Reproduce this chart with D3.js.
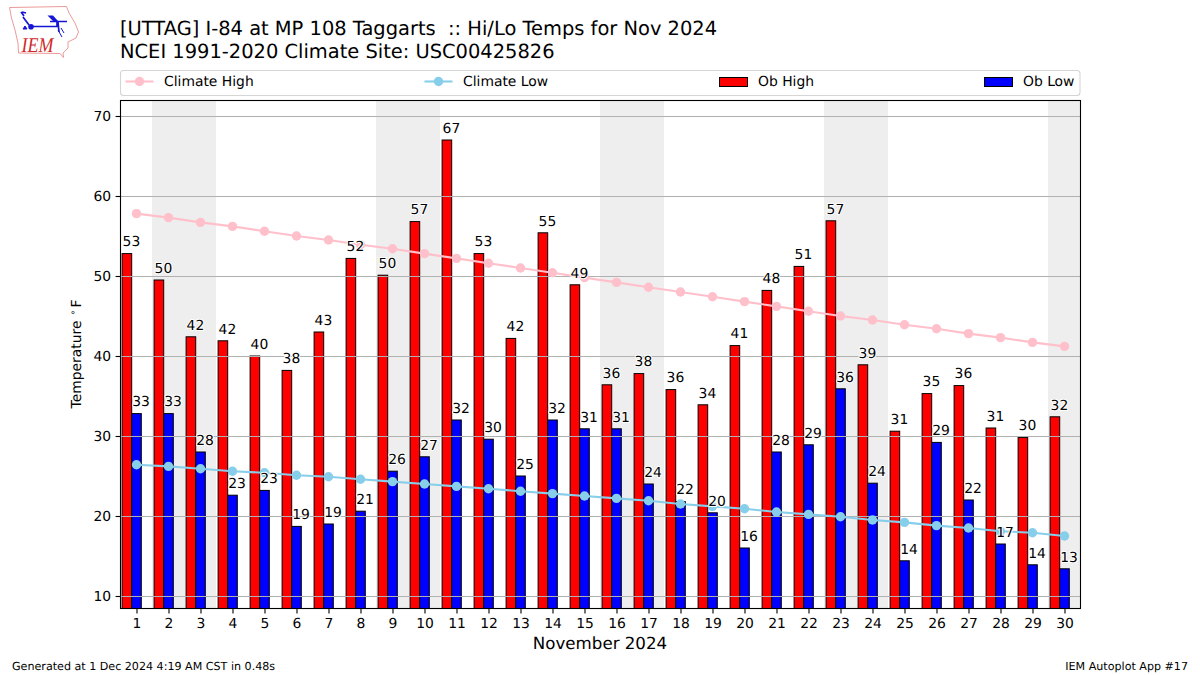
<!DOCTYPE html>
<html><head><meta charset="utf-8">
<script src="https://cdnjs.cloudflare.com/ajax/libs/d3/7.9.0/d3.min.js"></script>
<style>
html,body{margin:0;padding:0;background:#fff}
svg{display:block}
text{font-family:"DejaVu Sans",sans-serif;fill:#000;text-rendering:geometricPrecision}
</style></head><body>
<script>
const days = d3.range(1, 31);
const obHigh = [52.8,49.5,42.4,41.9,40.0,38.2,43.0,52.2,50.1,56.8,67.0,52.8,42.2,55.4,48.9,36.4,37.8,35.8,33.9,41.3,48.2,51.2,56.9,38.9,30.6,35.3,36.3,31.0,29.8,32.4];
const obLow = [32.8,32.8,28.0,22.6,23.2,18.7,19.0,20.6,25.6,27.4,32.0,29.6,25.0,32.0,30.9,30.9,24.0,21.8,20.4,16.0,28.0,28.9,35.9,24.1,14.4,29.2,22.0,16.5,13.9,13.4];
const climateHigh = [57.8,57.3,56.7,56.2,55.6,55.0,54.5,53.9,53.4,52.8,52.2,51.6,51.0,50.4,49.8,49.2,48.6,48.0,47.4,46.8,46.2,45.6,45.0,44.5,43.9,43.4,42.8,42.3,41.7,41.2];
const climateLow = [26.4,26.2,25.9,25.6,25.4,25.1,24.9,24.6,24.3,24.0,23.7,23.4,23.1,22.8,22.5,22.2,21.9,21.5,21.2,20.9,20.5,20.2,19.9,19.5,19.2,18.8,18.5,18.1,17.9,17.5];
const weekendDays = [2,3,9,10,16,17,23,24,30];
const yTicks = [10,20,30,40,50,60,70];
const titleLines = ["[UTTAG] I-84 at MP 108 Taggarts  :: Hi/Lo Temps for Nov 2024","NCEI 1991-2020 Climate Site: USC00425826"];

const svg = d3.select("body").append("svg").attr("width",1200).attr("height",675);
const L=120.5,R=1080.5,T=100.5,B=608.5;
const x = d3.scaleLinear().domain([0.5,30.5]).range([L,R]);
const y = d3.scaleLinear().domain([8.5,72]).range([B-0.5,T-0.5]);
const barW = x(0.3)-x(0);

svg.append("g").selectAll("rect").data(weekendDays).join("rect")
  .attr("x",d=>x(d-0.5)-0.5).attr("y",T).attr("width",d=>Math.min(x(d+0.5),R)-x(d-0.5)).attr("height",B-T)
  .attr("fill","#eeeeee");

function bars(vals,off,color){
  svg.append("g").selectAll("rect").data(vals).join("rect")
    .attr("x",(d,i)=>x(days[i]+off)-barW/2).attr("width",barW)
    .attr("y",d=>y(d)).attr("height",d=>B-y(d))
    .attr("fill",color).attr("stroke","#000").attr("stroke-width",1);
}
bars(obHigh,-0.3,"#ff0000");
bars(obLow,0,"#0000ff");

svg.append("g").selectAll("line").data(yTicks).join("line")
  .attr("x1",L).attr("x2",R).attr("y1",d=>Math.round(y(d))+0.5).attr("y2",d=>Math.round(y(d))+0.5)
  .attr("stroke","#b0b0b0").attr("stroke-width",1.1);

function climate(vals,color){
  const line=d3.line().x((d,i)=>x(days[i])).y(d=>y(d));
  svg.append("path").attr("d",line(vals)).attr("fill","none").attr("stroke",color).attr("stroke-width",2.08);
  svg.append("g").selectAll("circle").data(vals).join("circle")
    .attr("cx",(d,i)=>x(days[i])).attr("cy",d=>y(d)).attr("r",4.7).attr("fill",color);
}
climate(climateHigh,"#ffc0cb");
climate(climateLow,"#87ceeb");

function labels(vals,off){
  svg.append("g").selectAll("text").data(vals).join("text")
    .attr("x",(d,i)=>x(days[i]+off)-barW/2+0.5).attr("y",d=>y(d+1)+0.8)
    .attr("font-size",13.89)
    .attr("stroke","#fff").attr("stroke-width",2).attr("paint-order","stroke").attr("stroke-linejoin","round")
    .text(d=>Math.round(d));
}
labels(obHigh,-0.3);
labels(obLow,0);

svg.append("rect").attr("x",L).attr("y",T).attr("width",R-L).attr("height",B-T)
  .attr("fill","none").attr("stroke","#000").attr("stroke-width",1.1);

const xAxis = d3.axisBottom(x).tickValues(days).tickSize(4.9).tickPadding(4.5).tickFormat(d3.format("d"));
const gx = svg.append("g").attr("transform",`translate(0,${B})`).call(xAxis);
gx.select(".domain").remove();
gx.selectAll("text").attr("font-size",13.89).attr("font-family","DejaVu Sans");
const yAxis = d3.axisLeft(y).tickValues(yTicks).tickSize(4.9).tickPadding(4.5);
const gy = svg.append("g").attr("transform",`translate(${L},0)`).call(yAxis);
gy.select(".domain").remove();
gy.selectAll("text").attr("font-size",13.89).attr("font-family","DejaVu Sans");
svg.selectAll(".tick line").attr("stroke","#000").attr("stroke-width",1.1);

svg.append("g").selectAll("text").data(titleLines).join("text")
  .attr("x",120).attr("y",(d,i)=>35+i*22.5).attr("font-size",19.44).style("white-space","pre").text(d=>d);

svg.append("text").attr("x",600).attr("y",649).attr("text-anchor","middle").attr("font-size",16.67).text("November 2024");
const yl = svg.append("text").attr("transform","translate(81,354) rotate(-90)").attr("text-anchor","middle").attr("font-size",13.89);
yl.append("tspan").text("Temperature");
yl.append("tspan").attr("dx",5).attr("dy",-5).attr("font-size",9.7).text("∘");
yl.append("tspan").attr("dx",2).attr("dy",5).text("F");

svg.append("text").attr("x",12).attr("y",670).attr("font-size",11.11).text("Generated at 1 Dec 2024 4:19 AM CST in 0.48s");
svg.append("text").attr("x",1188).attr("y",670).attr("text-anchor","end").attr("font-size",11.11).text("IEM Autoplot App #17");

const lg = svg.append("g");
lg.append("rect").attr("x",120.5).attr("y",70.5).attr("width",959.5).attr("height",25).attr("rx",3)
  .attr("fill","#fff").attr("stroke","#d5d5d5").attr("stroke-width",1.1);
const legendLines=[{n:"Climate High",c:"#ffc0cb",x:125.5,tx:164},{n:"Climate Low",c:"#87ceeb",x:424.5,tx:463}];
legendLines.forEach(e=>{
  lg.append("line").attr("x1",e.x).attr("x2",e.x+28).attr("y1",81.5).attr("y2",81.5).attr("stroke",e.c).attr("stroke-width",2.08);
  lg.append("circle").attr("cx",e.x+14).attr("cy",81.5).attr("r",4.7).attr("fill",e.c);
  lg.append("text").attr("x",e.tx).attr("y",86).attr("font-size",13.89).text(e.n);
});
const legendPatches=[{n:"Ob High",c:"#ff0000",x:719.5,tx:758},{n:"Ob Low",c:"#0000ff",x:984.5,tx:1023}];
legendPatches.forEach(e=>{
  lg.append("rect").attr("x",e.x).attr("y",77.5).attr("width",28).attr("height",9).attr("fill",e.c).attr("stroke","#000").attr("stroke-width",1);
  lg.append("text").attr("x",e.tx).attr("y",86).attr("font-size",13.89).text(e.n);
});

const logo = svg.append("g");
logo.append("path").attr("d","M9.5,7.5 L66.5,6.5 L69,13 L75,23 L78.5,32 L76,38 L68,42 L68,48 L63,53 L63.5,57.5 L60,53.5 L18.5,53 L18,43 L15,30 L11.5,18 Z")
  .attr("fill","#fff").attr("stroke","#eb9a9a").attr("stroke-width",1);
logo.append("path").attr("d","M31,26.5 L57,26.5 L57,22 M50,21.5 L67,21.5 M58,22 L59,32 M23,17 L29,25 M21,12 L24,16 M22,12 L26,13")
  .attr("fill","none").attr("stroke","#1515d5").attr("stroke-width",1.7);
logo.append("path").attr("d","M47.5,15.5 L53,15.5 L58,21 L53,21 Z").attr("fill","#1515d5");
logo.append("circle").attr("cx",31).attr("cy",26.7).attr("r",2.8).attr("fill","#1515d5");
logo.append("path").attr("d","M23,29 L25,26 L27,29 Z M58,30 L62,37 M61,28 L64,33").attr("fill","#1515d5").attr("stroke","#1515d5").attr("stroke-width",1);
logo.append("text").attr("x",21.5).attr("y",52).attr("font-size",21)
  .attr("textLength",32).attr("lengthAdjust","spacingAndGlyphs").style("font-family","Liberation Serif").style("font-style","italic").style("fill","#cf2a2a").text("IEM");
</script>
</body></html>
